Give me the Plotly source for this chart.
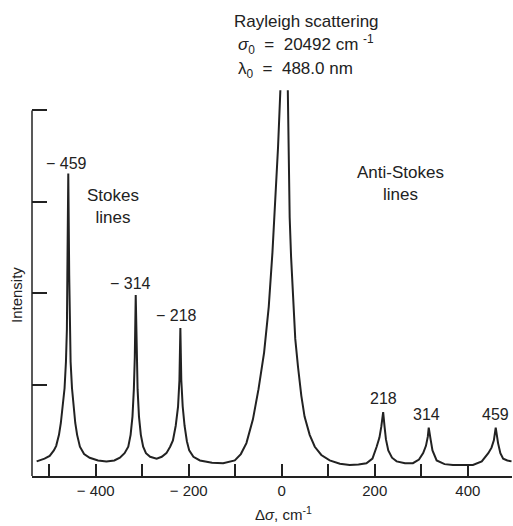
import plotly.graph_objects as go

# ---- data ----
shift_cm = [-527, -510, -499, -490, -485, -479, -475, -470, -467, -464, -462, -461, -459,
            -457, -456, -454, -451, -448, -444, -440, -434, -425, -413, -395, -377, -360,
            -348, -338, -330, -325, -321, -318, -316, -314, -312, -310, -307, -303, -298,
            -292, -283, -269, -258, -248, -240, -234, -228, -223, -220, -218, -216, -213,
            -209, -204, -199, -190, -176, -150, -126, -110, -101, -88, -76, -62, -50, -38,
            -28, -20, -14, -8, -3, 5, 13, 16, 17, 20, 24, 29, 35, 42, 49, 60, 71, 85, 103,
            125, 146, 165, 182, 195, 204, 210, 214, 218, 221, 224, 229, 237, 247, 265, 282,
            295, 304, 310, 314, 316, 320, 324, 333, 350, 368, 390, 411, 430, 444, 451, 456,
            460, 465, 470, 476, 485, 494]
intensity = [0.16, 0.19, 0.22, 0.28, 0.33, 0.45, 0.58, 0.78, 0.96, 1.25, 1.60, 2.2, 3.31,
             2.2, 1.60, 1.25, 0.96, 0.78, 0.58, 0.45, 0.32, 0.24, 0.20, 0.17, 0.16, 0.17,
             0.20, 0.25, 0.32, 0.45, 0.65, 0.95, 1.30, 1.98, 1.30, 0.95, 0.65, 0.45, 0.32,
             0.25, 0.21, 0.19, 0.21, 0.25, 0.32, 0.39, 0.55, 0.76, 1.05, 1.62, 1.05, 0.76,
             0.55, 0.38, 0.28, 0.21, 0.17, 0.145, 0.14, 0.155, 0.17, 0.24, 0.36, 0.62, 0.95, 1.35,
             1.85, 2.45, 3.0, 3.6, 4.22, None, 4.22, 3.02, 2.83, 2.4, 1.92, 1.5, 1.19, 0.88,
             0.65, 0.45, 0.32, 0.23, 0.17, 0.135, 0.12, 0.125, 0.14, 0.19, 0.32, 0.42, 0.54,
             0.70, 0.54, 0.40, 0.28, 0.20, 0.16, 0.14, 0.14, 0.18, 0.25, 0.33, 0.43, 0.53,
             0.40, 0.28, 0.17, 0.13, 0.12, 0.12, 0.12, 0.16, 0.25, 0.31, 0.39, 0.53, 0.36,
             0.25, 0.19, 0.17, 0.16]

peak_labels = ["\u2212 459", "\u2212 314", "\u2212 218", "218", "314", "459"]
peak_x = [-459, -314, -218, 218, 316, 460]
peak_y = [3.31, 1.98, 1.62, 0.70, 0.53, 0.53]

x_tickvals = [-400, -200, 0, 200, 400]
x_ticktext = ["\u2212 400", "\u2212 200", "0", "200", "400"]
x_minor_tickvals = [-500, -300, -100, 100, 300]
y_tickvals = [1, 2, 3, 4]

INK = "#222222"
FONT = "Liberation Sans, Arial, sans-serif"
NB = "\u00a0"

fig = go.Figure()
fig.add_trace(go.Scatter(x=shift_cm, y=intensity, mode="lines",
                         line=dict(color=INK, width=2), connectgaps=False,
                         hoverinfo="skip", showlegend=False))

W, H = 513, 526
ML, MR, MT, MB = 32, 1, 83, 50
PW, PH = W - ML - MR, H - MT - MB

def xp(px):
    return (px - ML) / PW

def yp(py):
    return (H - MB - py) / PH

fig.update_layout(
    width=W, height=H,
    margin=dict(l=ML, r=MR, t=MT, b=MB),
    paper_bgcolor="white", plot_bgcolor="white",
    font=dict(family=FONT, color=INK, size=15),
    xaxis=dict(range=[-537, 495], showgrid=False, zeroline=False,
               showline=True, linecolor=INK, linewidth=1.5,
               ticks="inside", ticklen=12, tickwidth=1.5, tickcolor=INK,
               tickmode="array", tickvals=x_tickvals, ticktext=x_ticktext,
               minor=dict(tickmode="array", tickvals=x_minor_tickvals, ticks="inside",
                          ticklen=12, tickwidth=1.5, tickcolor=INK, showgrid=False),
               tickfont=dict(size=15, family=FONT, color=INK)),
    yaxis=dict(range=[0, 4.3], showgrid=False, zeroline=False, showline=False,
               ticks="inside", ticklen=15, tickwidth=1.5, tickcolor=INK,
               tickvals=y_tickvals, showticklabels=False),
)

# y axis line only up to top tick
fig.add_shape(type="line", xref="paper", yref="y", x0=0, x1=0, y0=0, y1=4,
              line=dict(color=INK, width=1.5))

shifts = [(-2, 10), (-5, 12), (-4, 12), (0, 14), (-2, 13), (0, 13)]
for lab, x, y, (dx, dy) in zip(peak_labels, peak_x, peak_y, shifts):
    fig.add_annotation(x=x, y=y, xref="x", yref="y", text=lab, showarrow=False,
                       xanchor="center", yanchor="middle", xshift=dx, yshift=dy,
                       font=dict(size=16))

def note(px, py, text, size=17, xanchor="center", angle=0):
    fig.add_annotation(x=xp(px), y=yp(py), xref="paper", yref="paper", text=text,
                       showarrow=False, xanchor=xanchor, yanchor="middle",
                       textangle=angle, font=dict(size=size))

note(113, 206, "Stokes<br>lines")
note(400, 183, "Anti-Stokes<br>lines")
note(306, 21, "Rayleigh scattering")
note(236, 45, f"<i>σ</i><sub>0</sub>{NB}{NB}={NB}{NB}20492 cm{NB}<sup>-1</sup>", xanchor="left")
note(236, 70, f"λ<sub>0</sub>{NB}{NB}={NB}{NB}488.0 nm", xanchor="left")
note(283, 513, "Δ<i>σ</i>, cm<sup>-1</sup>", size=15)
note(16, 295, "Intensity", size=15, angle=-90)

fig.write_html("out.html")
